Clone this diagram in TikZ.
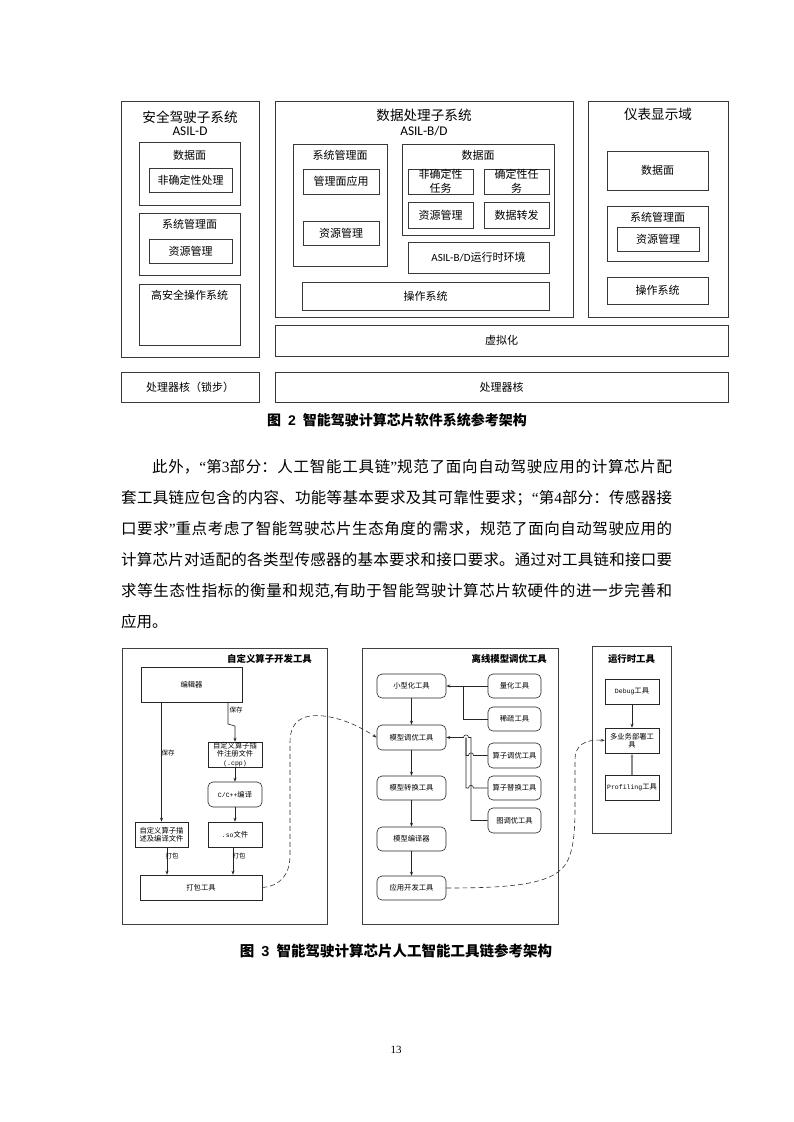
\documentclass[tikz,border=0pt]{standalone}
\usepackage{fontspec}
\setmainfont{Liberation Serif}
\newfontfamily\cjk{Noto Sans CJK SC}
\newfontfamily\carl{Carlito}
\newfontfamily\tnr{Liberation Serif}
\newfontfamily\mono{Liberation Mono}
\newfontfamily\arialb{Liberation Sans}
\usetikzlibrary{arrows.meta}
\XeTeXlinebreaklocale "zh"
\XeTeXlinebreakskip=0pt plus 6pt
\newcommand\mybox[7][]{\node[#1,minimum width={(#5-#3)*1pt},minimum height={(#6-#4)*1pt}] (#2) at ({(#3+#5)/2},{(#4+#6)/2}) {#7};}
\newcommand\jus{\parfillskip=0pt\tolerance=10000\relax}
\begin{document}
\begin{tikzpicture}[x=1pt,y=-1pt,
  obox/.style={draw=black!78, line width=0.9pt, inner sep=0pt, font=\cjk\fontsize{11}{13}\selectfont},
  ibox/.style={draw=black!78, line width=0.75pt, inner sep=0pt, align=center, font=\cjk\fontsize{11}{13.5}\selectfont},
  ttl/.style={font=\cjk\fontsize{13.6}{16}\selectfont, inner sep=0pt},
  asil/.style={font=\carl\fontsize{13.3}{16}\selectfont, inner sep=0pt},
  lab/.style={font=\cjk\fontsize{11}{13}\selectfont, inner sep=0pt},
  fbox/.style={draw=black!75, line width=0.8pt, inner sep=0pt},
  sbox/.style={draw=black!85, line width=0.6pt, inner sep=0pt, align=center, font=\cjk\fontsize{7.3}{8.5}\selectfont},
  rbox/.style={sbox, rounded corners=5pt},
  btitle/.style={font=\cjk\bfseries\fontsize{9.4}{11}\selectfont, inner sep=0pt},
  small/.style={font=\cjk\fontsize{6.5}{8}\selectfont, inner sep=0pt},
  arr/.style={-{Stealth[length=4pt,width=3pt]}, line width=0.6pt, draw=black!85},
  dsh/.style={dash pattern=on 5pt off 3pt, line width=0.6pt, draw=black!80, -{Stealth[length=4pt,width=3pt]}},
  capt/.style={font=\cjk\bfseries\fontsize{14}{16}\selectfont, inner sep=0pt},
  para/.style={anchor=base west, inner sep=0pt, font=\cjk\fontsize{15.5}{18}\selectfont}
]
\fill[white] (0,0) rectangle (793,1122);
\useasboundingbox (0,0) rectangle (793,1122);

% ---------- Figure 2 ----------
\mybox[obox]{safe}{121}{101}{259}{357}{}
\node[ttl] (safet) at (190,117) {安全驾驶子系统};
\node[asil] (safea) at (190,131.5) {ASIL-D};
\mybox[ibox]{safed}{139}{142}{240}{205}{}
\node[lab] (safedl) at (189.5,155) {数据面};
\mybox[ibox]{safen}{149}{168}{232}{192}{非确定性处理}
\mybox[ibox]{safem}{139}{213}{240}{275}{}
\node[lab] (safeml) at (189.5,224) {系统管理面};
\mybox[ibox]{safer}{149}{239}{232}{263}{资源管理}
\mybox[ibox]{safeos}{139}{284}{240}{345}{}
\node[lab] (safeosl) at (189.5,295) {高安全操作系统};
\mybox[obox]{lock}{121}{372}{259}{402}{处理器核（锁步）}

\mybox[obox]{dp}{275}{101}{573}{317}{}
\node[ttl] (dpt) at (424,115) {数据处理子系统};
\node[asil] (dpa) at (424,131.5) {ASIL-B/D};
\mybox[ibox]{dpm}{293}{144}{387}{266}{}
\node[lab] (dpml) at (340,155) {系统管理面};
\mybox[ibox]{dpma}{303}{169}{379}{194}{管理面应用}
\mybox[ibox]{dpmr}{303}{221}{379}{245}{资源管理}
\mybox[ibox]{dpd}{402}{144}{554}{235}{}
\node[lab] (dpdl) at (478,155) {数据面};
\mybox[ibox]{dpn}{408}{169}{473}{194}{非确定性\\任务}
\mybox[ibox]{dpdt}{484}{169}{549}{194}{确定性任\\务}
\mybox[ibox]{dpr}{408}{202}{473}{228}{资源管理}
\mybox[ibox]{dpf}{484}{202}{549}{228}{数据转发}
\mybox[ibox]{dprt}{408}{242}{549}{273}{{\carl ASIL-B/D}运行时环境}
\mybox[ibox]{dpos}{302}{282}{549}{310}{操作系统}

\mybox[obox]{ins}{588}{101}{728}{317}{}
\node[ttl] (inst) at (658,114) {仪表显示域};
\mybox[ibox]{insd}{607}{151}{708}{190}{数据面}
\mybox[ibox]{insm}{607}{206}{708}{261}{}
\node[lab] (insml) at (657.5,217) {系统管理面};
\mybox[ibox]{insr}{617}{227}{699}{251}{资源管理}
\mybox[ibox]{insos}{607}{277}{708}{304}{操作系统}

\mybox[obox]{virt}{275}{325}{728}{356}{虚拟化}
\mybox[obox]{core}{275}{372}{728}{402}{处理器核}

\node[capt] (cap2) at (397,420.5) {图\hspace{7pt}{\arialb 2}\hspace{7pt}智能驾驶计算芯片软件系统参考架构};

% ---------- Paragraph ----------
\node[para] (p1) at (152,472) {\parbox[t]{520pt}{\jus 此外，{\tnr “}第{\tnr 3}部分：人工智能工具链{\tnr ”}规范了面向自动驾驶应用的计算芯片配}};
\node[para] (p2) at (121,503) {\parbox[t]{551pt}{\jus 套工具链应包含的内容、功能等基本要求及其可靠性要求；{\tnr “}第{\tnr 4}部分：传感器接}};
\node[para] (p3) at (121,534) {\parbox[t]{551pt}{\jus 口要求{\tnr ”}重点考虑了智能驾驶芯片生态角度的需求，规范了面向自动驾驶应用的}};
\node[para] (p4) at (121,565) {\parbox[t]{551pt}{\jus 计算芯片对适配的各类型传感器的基本要求和接口要求。通过对工具链和接口要}};
\node[para] (p5) at (121,596) {\parbox[t]{551pt}{\jus 求等生态性指标的衡量和规范{\tnr ,}有助于智能驾驶计算芯片软硬件的进一步完善和}};
\node[para] (p6) at (121,627) {应用。};

% ---------- Figure 3 ----------
% left frame
\mybox[fbox]{f1}{122}{648}{327}{924}{}
\node[btitle, anchor=east] (f1t) at (312,659) {自定义算子开发工具};
\mybox[sbox]{edit}{141}{667}{242}{702}{编辑器}
\mybox[sbox]{cpp}{208}{742}{262}{767}{自定义算子插\\件注册文件\\{\mono\fontsize{6.5}{8}\selectfont (.cpp)}}
\mybox[rbox]{cc}{208}{782}{262}{807}{{\mono\fontsize{6.5}{8}\selectfont C/C++}编译}
\mybox[sbox]{desc}{135}{822}{188}{847}{自定义算子描\\述及编译文件}
\mybox[sbox]{so}{208}{822}{262}{847}{{\mono\fontsize{6.5}{8}\selectfont .so}文件}
\mybox[sbox]{pack}{140}{875}{262}{900}{打包工具}
\coordinate (xr1) at (228,724);
\coordinate (xr2) at (235,726);
\coordinate (xp1) at (167,860);
\coordinate (xp2) at (233,860);
\draw[arr] (edit.south -| desc.north) -- (desc.north);
\draw[arr] (edit.south -| xr1) -- (xr1) -- (xr2) -- (cpp.north);
\draw[arr] (cpp.south) -- (cc.north);
\draw[arr] (cc.south) -- (so.north);
\draw[arr] (desc.south -| xp1) -- (pack.north -| xp1);
\draw[arr] (so.south -| xp2) -- (pack.north -| xp2);
\node[small] (s1) at (168,753) {保存};
\node[small] (s2) at (236,710) {保存};
\node[small] (b1) at (172,856) {打包};
\node[small] (b2) at (239,856) {打包};

% middle frame
\mybox[fbox]{f2}{362}{648}{558}{924}{}
\node[btitle, anchor=east] (f2t) at (547,659) {离线模型调优工具};
\mybox[rbox]{mini}{377}{674}{446}{698}{小型化工具}
\mybox[rbox]{quant}{488}{674}{541}{698}{量化工具}
\mybox[rbox]{sparse}{488}{707}{541}{731}{稀疏工具}
\mybox[rbox]{tune}{377}{725}{446}{750}{模型调优工具}
\mybox[rbox]{optune}{488}{743}{541}{768}{算子调优工具}
\mybox[rbox]{oprep}{488}{776}{541}{800}{算子替换工具}
\mybox[rbox]{gtune}{488}{808}{541}{833}{图调优工具}
\mybox[rbox]{conv}{377}{776}{446}{800}{模型转换工具}
\mybox[rbox]{comp}{377}{827}{446}{851}{模型编译器}
\mybox[rbox]{app}{377}{876}{446}{900}{应用开发工具}
\draw[arr] (mini.south) -- (tune.north);
\draw[arr] (tune.south) -- (conv.north);
\draw[arr] (conv.south) -- (comp.north);
\draw[arr] (comp.south) -- (app.north);
\coordinate (jq) at (463,686);
\draw[arr] (quant.west) -- (mini.east);
\draw[line width=0.6pt, black!85] (sparse.west) -- (sparse.west -| jq) -- (jq);
\draw[line width=0.6pt, black!85] (optune.west) -- (473.5,755.5) .. controls (473.5,752) and (468.5,752) .. (468.5,755.5) -- (466,755.5) -- (466,737.5);
\draw[line width=0.6pt, black!85] (oprep.west) -- (473.5,788) .. controls (473.5,784.5) and (468.5,784.5) .. (468.5,788) -- (466,788) -- (466,737.5);
\draw[arr] (gtune.west) -- (471,820.5) -- (471,737.5) -- (468.5,737.5) .. controls (468.5,734) and (463.5,734) .. (463.5,737.5) -- (tune.east);

% right frame
\mybox[fbox]{f3}{592}{646}{671}{833}{}
\node[btitle] (f3t) at (631.5,659) {运行时工具};
\mybox[sbox]{debug}{605}{679}{659}{704}{{\mono\fontsize{6.5}{8}\selectfont Debug}工具}
\mybox[sbox]{deploy}{605}{728}{659}{753}{多业务部署工\\具}
\mybox[sbox]{prof}{605}{775}{659}{800}{{\mono\fontsize{6.5}{8}\selectfont Profiling}工具}
\draw[arr] (debug.south) -- (deploy.north);
\draw[arr, draw=black!45, line width=1.2pt] (prof.north) -- (deploy.south);

% dashed connectors
\draw[dsh] (pack.east) .. controls (280,886) and (290,875) .. (290,855) -- (290,742) .. controls (290,716) and (310,713) .. (330,717) .. controls (350,721) and (365,730) .. (tune.west);
\draw[dsh] (app.east) .. controls (515,888) and (555,884) .. (567,862) .. controls (574,848) and (575,830) .. (575,805) -- (575,760) .. controls (575,745) and (585,739) .. (deploy.west);

\node[capt, font=\cjk\bfseries\fontsize{14.5}{16}\selectfont] (cap3) at (396,950.5) {图\hspace{7pt}{\arialb 3}\hspace{7pt}智能驾驶计算芯片人工智能工具链参考架构};

\node[font=\tnr\fontsize{11}{13}\selectfont, inner sep=0pt] (pg) at (396,1050) {13};
\end{tikzpicture}
\end{document}
